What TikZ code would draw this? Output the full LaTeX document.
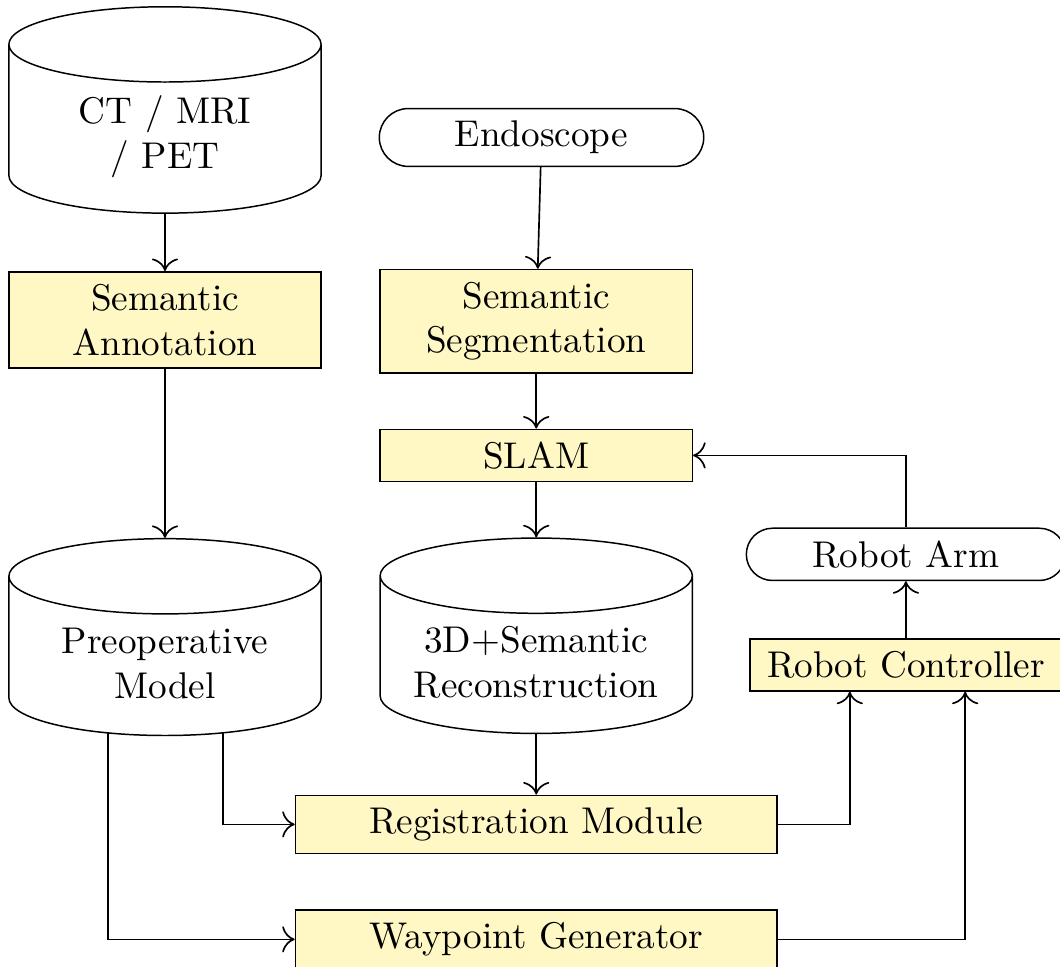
\documentclass[tikz,border=0pt]{standalone}
\usepackage{tikz}
\usetikzlibrary{shapes.geometric, shapes.misc, arrows.meta, positioning, calc}
\definecolor{procfill}{RGB}{255,248,197}

\begin{document}
\begin{tikzpicture}[
  pbox/.style={rectangle, draw, fill=procfill, minimum width=2.95cm, align=center},
  pstore/.style={cylinder, shape border rotate=90, draw, aspect=0.26,
                 text width=2.5cm, minimum width=2.95cm, minimum height=1.84cm,
                 align=center},
  pterm/.style={rounded rectangle, draw, minimum width=3.3cm, align=center},
  arrow/.style={-{To[scale=1.3]}, line width=0.45pt},
]
  \useasboundingbox (0,0) rectangle (10.016,-9.137);

  % preoperative branch
  \node[pstore, minimum height=1.95cm, anchor=north] (ct) at (1.559,-0.057) {CT / MRI\\/ PET};
  \node[pbox, below=0.54cm of ct] (annot) {Semantic\\Annotation};
  \node[pstore, minimum height=1.86cm, below=1.6cm of annot] (preop) {Preoperative\\Model};

  % intraoperative branch
  \node[pterm] (endo) at (5.117,-1.299) {Endoscope};
  \node[pbox, below=0.96cm of endo, xshift=-0.05cm] (seg) {Semantic\\Segmentation};
  \node[pbox, below=0.52cm of seg] (slam) {SLAM};
  \node[pstore, below=0.52cm of slam] (recon) {3D+Semantic\\Reconstruction};
  \node[pbox, minimum width=4.55cm, below=0.57cm of recon] (reg) {Registration Module};
  \node[pbox, minimum width=4.55cm, below=0.52cm of reg] (wp) {Waypoint Generator};

  % robot side
  \node[pbox] (ctrl) at (8.56,-6.284) {Robot Controller};
  \node[pterm, minimum width=3.25cm, above=0.54cm of ctrl] (arm) {Robot Arm};

  \draw[arrow] (ct) -- (annot);
  \draw[arrow] (annot) -- (preop);
  \draw[arrow] (endo) -- (seg);
  \draw[arrow] (seg) -- (slam);
  \draw[arrow] (slam) -- (recon);
  \draw[arrow] (recon) -- (reg);
  \draw[arrow] ([xshift=0.55cm,yshift=1pt]preop.south) |- (reg);
  \draw[arrow] ([xshift=-0.54cm,yshift=1pt]preop.south) |- (wp);
  \draw[arrow] (reg) -| ([xshift=-0.53cm]ctrl.south);
  \draw[arrow] (wp) -| ([xshift=0.56cm]ctrl.south);
  \draw[arrow] (ctrl) -- (arm);
  % feedback from the arm to tracking
  \draw[arrow] (arm) |- (slam);
\end{tikzpicture}
\end{document}
